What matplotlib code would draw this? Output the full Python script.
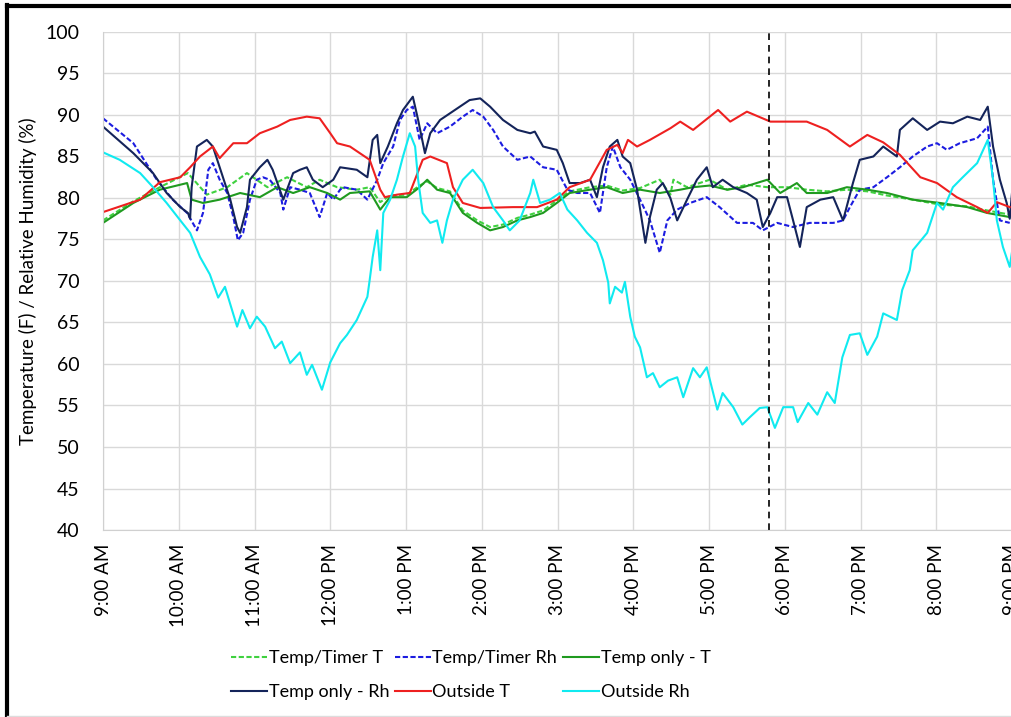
import matplotlib
matplotlib.use('Agg')
import matplotlib.pyplot as plt
from matplotlib.lines import Line2D

plt.rcParams['font.family'] = ['Lato', 'DejaVu Sans']

# times are hours of the day (9.0 = 9:00 AM, 21.0 = 9:00 PM)
tick_hours = list(range(9, 22))
tick_labels = ['9:00 AM', '10:00 AM', '11:00 AM', '12:00 PM', '1:00 PM', '2:00 PM',
               '3:00 PM', '4:00 PM', '5:00 PM', '6:00 PM', '7:00 PM', '8:00 PM', '9:00 PM']
marker_hour = 17.79

# Outside T
out_t_time = [9.00, 9.49, 9.75, 10.02, 10.15, 10.28, 10.45, 10.54, 10.72, 10.90, 11.07, 11.30,
              11.47, 11.69, 11.86, 12.00, 12.09, 12.26, 12.52, 12.66, 12.72, 12.88, 13.05, 13.22,
              13.32, 13.54, 13.62, 13.75, 13.98, 14.41, 14.73, 14.99, 15.16, 15.43, 15.65, 15.79,
              15.86, 15.93, 16.05, 16.22, 16.49, 16.62, 16.79, 17.12, 17.28, 17.50, 17.81, 18.29,
              18.56, 18.86, 19.09, 19.30, 19.52, 19.79, 20.01, 20.27, 20.54, 20.68, 20.80, 20.97]
out_t = [78.3, 79.8, 81.9, 82.5, 83.7, 85.0, 86.2, 84.8, 86.6, 86.6, 87.8, 88.6,
         89.4, 89.8, 89.6, 87.8, 86.6, 86.2, 84.6, 81.0, 80.1, 80.4, 80.6, 84.6,
         85.0, 84.2, 81.3, 79.4, 78.8, 78.9, 78.9, 79.8, 81.3, 82.2, 85.8, 86.4,
         85.4, 87.0, 86.2, 87.0, 88.4, 89.2, 88.2, 90.6, 89.2, 90.4, 89.2, 89.2,
         88.2, 86.2, 87.6, 86.7, 85.2, 82.5, 81.8, 80.1, 78.9, 78.2, 79.5, 78.9]

# Outside Rh
out_rh_time = [9.00, 9.22, 9.49, 9.66, 9.84, 10.02, 10.15, 10.28, 10.41, 10.52, 10.61, 10.77,
               10.84, 10.94, 11.03, 11.14, 11.27, 11.36, 11.47, 11.60, 11.69, 11.76, 11.89, 12.00,
               12.13, 12.22, 12.35, 12.49, 12.52, 12.56, 12.62, 12.66, 12.70, 12.79, 12.88, 12.96,
               13.05, 13.12, 13.16, 13.22, 13.32, 13.41, 13.48, 13.54, 13.62, 13.75, 13.88, 14.02,
               14.15, 14.28, 14.37, 14.50, 14.64, 14.68, 14.77, 14.90, 15.03, 15.13, 15.26, 15.39,
               15.52, 15.60, 15.67, 15.69, 15.76, 15.85, 15.89, 15.96, 16.02, 16.09, 16.18, 16.26,
               16.35, 16.46, 16.58, 16.66, 16.79, 16.88, 16.97, 17.11, 17.18, 17.32, 17.44, 17.54,
               17.67, 17.77, 17.87, 17.98, 18.11, 18.17, 18.31, 18.43, 18.56, 18.66, 18.76, 18.86,
               18.99, 19.09, 19.22, 19.30, 19.48, 19.55, 19.65, 19.69, 19.88, 20.01, 20.09, 20.22,
               20.35, 20.54, 20.68, 20.75, 20.80, 20.88, 20.97, 21.00]
out_rh = [85.5, 84.6, 83.0, 81.3, 79.4, 77.3, 75.8, 72.9, 70.8, 68.0, 69.3, 64.5,
          66.5, 64.3, 65.7, 64.5, 61.9, 62.7, 60.1, 61.4, 58.7, 59.9, 56.9, 60.2,
          62.5, 63.5, 65.3, 68.1, 70.1, 72.9, 76.1, 71.3, 78.2, 79.8, 82.2, 85.0,
          87.8, 86.2, 82.2, 78.2, 77.0, 77.3, 74.6, 77.3, 79.8, 82.2, 83.4, 81.8,
          78.9, 77.3, 76.1, 77.3, 80.6, 82.2, 79.4, 79.8, 80.6, 78.6, 77.3, 75.8,
          74.6, 72.5, 69.8, 67.3, 69.3, 68.6, 69.9, 65.7, 63.3, 62.0, 58.4, 58.9,
          57.2, 58.0, 58.4, 56.0, 59.5, 58.4, 59.6, 54.5, 56.5, 54.8, 52.7, 53.6,
          54.7, 54.8, 52.3, 54.8, 54.8, 53.0, 55.3, 53.9, 56.6, 55.3, 60.8, 63.5,
          63.7, 61.1, 63.3, 66.1, 65.3, 68.9, 71.3, 73.7, 75.8, 79.4, 78.6, 81.3,
          82.5, 84.2, 87.0, 82.2, 77.3, 74.1, 71.7, 73.5]

# Temp only - Rh
only_rh_time = [9.00, 9.40, 9.66, 9.84, 10.02, 10.12, 10.15, 10.17, 10.24, 10.37, 10.45, 10.54,
                10.68, 10.77, 10.81, 10.90, 10.94, 11.07, 11.17, 11.24, 11.38, 11.51, 11.60, 11.69,
                11.77, 11.90, 12.04, 12.13, 12.35, 12.49, 12.56, 12.62, 12.66, 12.76, 12.88, 12.96,
                13.09, 13.16, 13.25, 13.32, 13.45, 13.58, 13.71, 13.84, 13.98, 14.11, 14.28, 14.47,
                14.64, 14.70, 14.81, 14.99, 15.07, 15.16, 15.30, 15.43, 15.52, 15.60, 15.69, 15.79,
                15.86, 15.96, 16.05, 16.16, 16.22, 16.31, 16.39, 16.49, 16.58, 16.71, 16.84, 16.97,
                17.05, 17.18, 17.32, 17.50, 17.63, 17.71, 17.81, 17.90, 18.03, 18.11, 18.20, 18.29,
                18.47, 18.64, 18.77, 18.90, 18.99, 19.17, 19.30, 19.48, 19.52, 19.69, 19.88, 20.05,
                20.22, 20.41, 20.58, 20.68, 20.75, 20.84, 20.93, 20.97, 21.00]
only_rh = [88.6, 85.4, 83.0, 80.6, 78.9, 78.2, 77.5, 81.3, 86.2, 87.0, 86.2, 83.7,
           79.8, 76.5, 75.8, 78.9, 82.2, 83.7, 84.6, 83.4, 79.8, 83.0, 83.4, 83.7,
           82.2, 81.3, 82.2, 83.7, 83.4, 82.5, 87.0, 87.6, 84.2, 86.2, 89.0, 90.6,
           92.2, 89.4, 85.4, 87.8, 89.4, 90.2, 91.0, 91.8, 92.0, 91.0, 89.4, 88.2,
           87.8, 88.0, 86.2, 85.8, 84.2, 81.8, 81.8, 82.2, 80.1, 83.7, 86.2, 87.0,
           85.0, 84.2, 81.0, 74.6, 77.7, 81.0, 81.8, 80.0, 77.3, 79.8, 82.2, 83.7,
           81.3, 82.2, 81.3, 80.6, 79.8, 76.5, 78.2, 80.1, 80.1, 77.3, 74.1, 78.9,
           79.8, 80.1, 77.3, 81.8, 84.6, 85.0, 86.2, 85.0, 88.2, 89.6, 88.2, 89.2,
           89.0, 89.8, 89.4, 91.0, 86.2, 82.2, 79.4, 77.5, 80.6]

# Temp/Timer Rh
timer_rh_time = [9.00, 9.40, 9.71, 9.92, 10.11, 10.24, 10.32, 10.39, 10.45, 10.54, 10.64, 10.72,
                 10.78, 10.85, 10.94, 11.03, 11.11, 11.20, 11.34, 11.38, 11.47, 11.60, 11.73, 11.86,
                 11.96, 12.04, 12.13, 12.17, 12.35, 12.49, 12.62, 12.70, 12.83, 12.92, 13.01, 13.09,
                 13.18, 13.28, 13.41, 13.58, 13.75, 13.88, 14.02, 14.15, 14.28, 14.47, 14.64, 14.81,
                 14.99, 15.13, 15.26, 15.43, 15.56, 15.65, 15.73, 15.83, 15.96, 16.09, 16.22, 16.35,
                 16.45, 16.58, 16.75, 16.97, 17.14, 17.37, 17.58, 17.71, 17.90, 18.11, 18.33, 18.64,
                 18.77, 18.86, 18.99, 19.17, 19.35, 19.52, 19.69, 19.88, 20.01, 20.14, 20.31, 20.54,
                 20.68, 20.75, 20.84, 20.97]
timer_rh = [89.6, 86.6, 82.2, 79.8, 78.2, 76.1, 78.2, 83.4, 84.2, 82.2, 80.6, 77.7,
            74.9, 75.8, 79.8, 82.2, 82.5, 82.2, 80.6, 78.6, 81.3, 81.0, 80.6, 77.7,
            80.6, 79.8, 81.0, 81.3, 81.0, 79.8, 82.2, 84.2, 86.2, 89.4, 90.6, 91.0,
            87.0, 89.0, 87.8, 88.6, 89.8, 90.6, 89.8, 88.2, 86.2, 84.6, 85.0, 83.7,
            83.4, 81.0, 80.6, 80.6, 78.2, 83.7, 86.2, 83.7, 82.2, 79.8, 77.3, 73.4,
            77.3, 78.6, 79.4, 80.1, 78.9, 77.0, 77.0, 76.1, 77.0, 76.5, 77.0, 77.0,
            77.3, 78.9, 81.0, 81.3, 82.5, 83.7, 85.0, 86.2, 86.6, 85.8, 86.6, 87.2,
            88.6, 82.2, 77.3, 77.0]

# Temp only - T
only_t_time = [9.00, 9.40, 9.75, 10.11, 10.17, 10.32, 10.54, 10.81, 11.07, 11.30, 11.51, 11.73,
               11.96, 12.13, 12.26, 12.52, 12.66, 12.79, 13.01, 13.18, 13.28, 13.41, 13.58, 13.75,
               13.94, 14.11, 14.28, 14.47, 14.64, 14.81, 14.99, 15.16, 15.43, 15.65, 15.86, 16.09,
               16.35, 16.62, 16.79, 17.01, 17.24, 17.45, 17.77, 17.94, 18.16, 18.29, 18.56, 18.82,
               19.09, 19.35, 19.69, 20.05, 20.41, 20.67, 20.97]
only_t = [77.0, 79.4, 81.0, 81.8, 79.8, 79.4, 79.8, 80.6, 80.1, 81.3, 80.6, 81.3,
          80.6, 79.8, 80.6, 80.8, 78.6, 80.1, 80.1, 81.3, 82.2, 81.0, 80.6, 78.2,
          77.0, 76.1, 76.5, 77.3, 77.7, 78.2, 79.4, 80.6, 81.0, 81.3, 80.6, 81.0,
          80.6, 81.0, 81.3, 81.5, 81.0, 81.3, 82.2, 80.6, 81.8, 80.6, 80.6, 81.3,
          81.0, 80.6, 79.8, 79.4, 78.9, 78.2, 77.7]

# Temp/Timer T
timer_t_time = [9.00, 9.40, 9.75, 10.12, 10.37, 10.64, 10.90, 11.17, 11.43, 11.69, 11.86, 12.09,
                12.35, 12.52, 12.66, 12.79, 13.01, 13.18, 13.28, 13.41, 13.58, 13.75, 13.94, 14.11,
                14.28, 14.47, 14.64, 14.81, 14.99, 15.16, 15.43, 15.65, 15.86, 16.09, 16.35, 16.49,
                16.53, 16.71, 17.01, 17.24, 17.50, 17.77, 18.03, 18.29, 18.56, 18.82, 19.09, 19.35,
                19.69, 20.05, 20.41, 20.67, 20.97]
timer_t = [77.3, 79.6, 81.3, 83.0, 80.4, 81.3, 83.0, 81.3, 82.5, 81.3, 82.2, 81.3,
           81.0, 81.3, 79.5, 80.3, 80.4, 81.5, 82.0, 81.2, 80.8, 78.5, 77.3, 76.5,
           76.8, 77.6, 78.0, 78.5, 79.7, 80.8, 81.3, 81.5, 80.9, 81.2, 82.2, 80.4,
           82.2, 81.3, 82.2, 81.0, 81.6, 81.3, 81.3, 81.0, 80.8, 81.0, 80.8, 80.3,
           79.8, 79.2, 79.0, 78.5, 78.0]

fig = plt.figure(figsize=(10.12, 7.17), dpi=100)
ax = fig.add_axes([0.1018, 0.2608, 0.8982, 0.6946])

lw = 1.5
l_tt, = ax.plot(timer_t_time, timer_t, color='#3fd13f', lw=lw, ls=(0, (2.5, 1.2)), label='Temp/Timer T')
l_tr, = ax.plot(timer_rh_time, timer_rh, color='#1c1ce0', lw=lw, ls=(0, (2.5, 1.2)), label='Temp/Timer Rh')
l_ot, = ax.plot(only_t_time, only_t, color='#1f9a1f', lw=lw, label='Temp only - T')
l_orh, = ax.plot(only_rh_time, only_rh, color='#14245a', lw=lw, label='Temp only - Rh')
l_out, = ax.plot(out_t_time, out_t, color='#ee2020', lw=lw, label='Outside T')
l_outrh, = ax.plot(out_rh_time, out_rh, color='#10eaf0', lw=lw, label='Outside Rh')

ax.axvline(marker_hour, color='black', lw=1.2, ls=(0, (4, 3)))

ax.set_xlim(9, 21)
ax.set_ylim(40, 100)
ax.set_yticks(range(40, 101, 5))
ax.set_xticks(tick_hours)
ax.set_xticklabels(tick_labels, rotation=90, fontsize=13.5)
ax.tick_params(axis='y', labelsize=14, length=0, pad=17)
ax.tick_params(axis='x', length=0, pad=10)
ax.grid(True, color='#d9d9d9', lw=1)
ax.set_axisbelow(True)
for s in ['top', 'right']:
    ax.spines[s].set_visible(False)
for s in ['left', 'bottom']:
    ax.spines[s].set_color('#d0d0d0')
ax.set_ylabel('Temperature (F) / Relative Humidity (%)', fontsize=13.5, labelpad=6)

# column-major order so rows read like the original legend
handles = [l_tt, l_orh, l_tr, l_out, l_ot, l_outrh]
fig.legend(handles=handles, labels=[h.get_label() for h in handles], ncol=3,
           loc='center', bbox_to_anchor=(0.465, 0.058), frameon=False, fontsize=13,
           handlelength=2.0, handletextpad=0.1, columnspacing=0.3, labelspacing=1.0)

# frame of the original screenshot
fig.add_artist(Line2D([0.007, 0.007], [0, 0.993], color='black', lw=3, transform=fig.transFigure))
fig.add_artist(Line2D([0.007, 1.0], [0.992, 0.992], color='black', lw=3, transform=fig.transFigure))
fig.add_artist(Line2D([0.007, 1.0], [0.001, 0.001], color='#dddddd', lw=1, transform=fig.transFigure))

fig.savefig('out.png', dpi=100)
